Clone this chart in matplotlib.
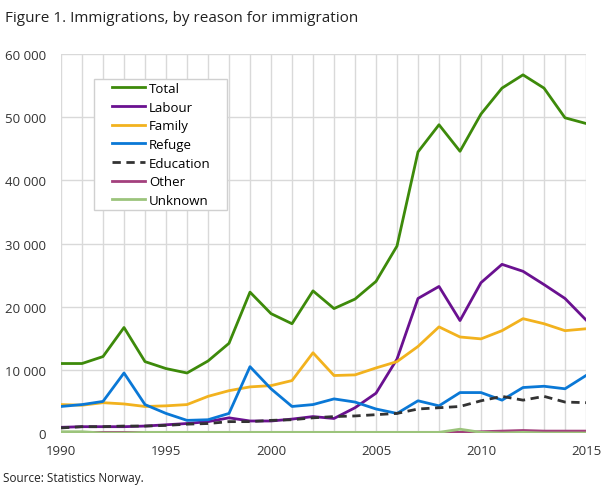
import numpy as np
import matplotlib
matplotlib.use("Agg")
import matplotlib.pyplot as plt
from matplotlib.patches import Rectangle
from matplotlib.ticker import FuncFormatter

plt.rcParams['font.family'] = ['Open Sans', 'DejaVu Sans']

# data
years = list(range(1990, 2016))
total = [11000, 11000, 12100, 16700, 11300, 10200, 9500, 11400, 14200, 22300,
         18900, 17300, 22500, 19700, 21200, 24000, 29600, 44500, 48800, 44600,
         50500, 54600, 56700, 54600, 49900, 49000]
labour = [900, 1000, 1000, 1000, 1100, 1300, 1500, 1800, 2400, 1900,
          1900, 2200, 2600, 2300, 4000, 6300, 11700, 21300, 23200, 17800,
          23800, 26700, 25600, 23500, 21300, 17900]
family = [4500, 4400, 4800, 4600, 4200, 4300, 4500, 5800, 6700, 7300,
          7500, 8300, 12700, 9100, 9200, 10300, 11300, 13700, 16800, 15200,
          14900, 16200, 18100, 17300, 16200, 16500]
refuge = [4200, 4500, 5000, 9500, 4500, 3100, 2000, 2100, 3100, 10500,
          7000, 4200, 4500, 5400, 4900, 3800, 3100, 5100, 4300, 6400,
          6400, 5200, 7200, 7400, 7000, 9100]
education = [800, 1000, 1000, 1100, 1100, 1200, 1400, 1500, 1800, 1800,
             2000, 2100, 2400, 2600, 2700, 2900, 3100, 3800, 4000, 4200,
             5100, 5800, 5200, 5800, 4900, 4800]
other = [100, 100, 100, 100, 100, 100, 100, 100, 100, 100,
         100, 100, 100, 100, 100, 100, 100, 100, 100, 100,
         200, 300, 400, 300, 300, 300]
unknown = [200, 200, 0, 0, 100, 100, 100, 100, 100, 100,
           100, 100, 100, 100, 100, 100, 100, 100, 100, 600,
           100, 0, 100, 0, 0, 0]

series = [
    ("Total", total, "#3d8a0a", "-"),
    ("Labour", labour, "#6a1190", "-"),
    ("Family", family, "#f2b21e", "-"),
    ("Refuge", refuge, "#0a78d6", "-"),
    ("Education", education, "#333333", "--"),
    ("Other", other, "#a3407d", "-"),
    ("Unknown", unknown, "#9cc47c", "-"),
]

W, H = 609, 489
fig = plt.figure(figsize=(W / 100, H / 100), dpi=100)
ax = fig.add_axes([61 / W, 1 - 434 / H, (586 - 61) / W, (434 - 55) / H])

for name, vals, col, ls in series:
    ax.plot(years, vals, color=col, linestyle=ls, linewidth=2, label=name,
            dashes=(3, 2) if ls == "--" else (None, None), zorder=3)

ax.set_xlim(1990, 2015)
ax.set_ylim(0, 60000)
ax.set_xticks(range(1990, 2016, 5))
ax.set_xticks(years, minor=True)
ax.set_yticks(range(0, 60001, 10000))
ax.yaxis.set_major_formatter(FuncFormatter(lambda v, p: f"{int(v):,}".replace(",", " ")))
ax.grid(True, which="both", axis="x", color="#d9d9d9", linewidth=1)
ax.grid(True, which="major", axis="y", color="#d9d9d9", linewidth=1)
ax.tick_params(which="both", length=0, labelsize=9.5, colors="#333333")
ax.tick_params(axis="y", pad=11)
ax.tick_params(axis="x", pad=8)
for s in ax.spines.values():
    s.set_visible(False)

# legend box drawn separately so the padding matches the reference
fig.patches.append(Rectangle((94 / W, 1 - 211 / H), (227 - 94) / W, (211 - 80) / H,
                             transform=fig.transFigure, facecolor="white",
                             edgecolor="#d0d0d0", linewidth=1, zorder=4))
leg = fig.legend(loc="upper left", bbox_to_anchor=(112 / W, 1 - 83 / H),
                 frameon=False, fontsize=9.5, handlelength=2.5,
                 labelspacing=0.43, handletextpad=0.3, borderpad=0,
                 borderaxespad=0)
leg.set_zorder(5)

fig.text(5 / W, 1 - 18 / H, "Figure 1. Immigrations, by reason for immigration",
         fontsize=11, color="#222222", va="center", ha="left")
fig.text(3 / W, 1 - 479 / H, "Source: Statistics Norway.",
         fontsize=8.5, color="#222222", va="center", ha="left")

fig.savefig("out.png", dpi=100)
